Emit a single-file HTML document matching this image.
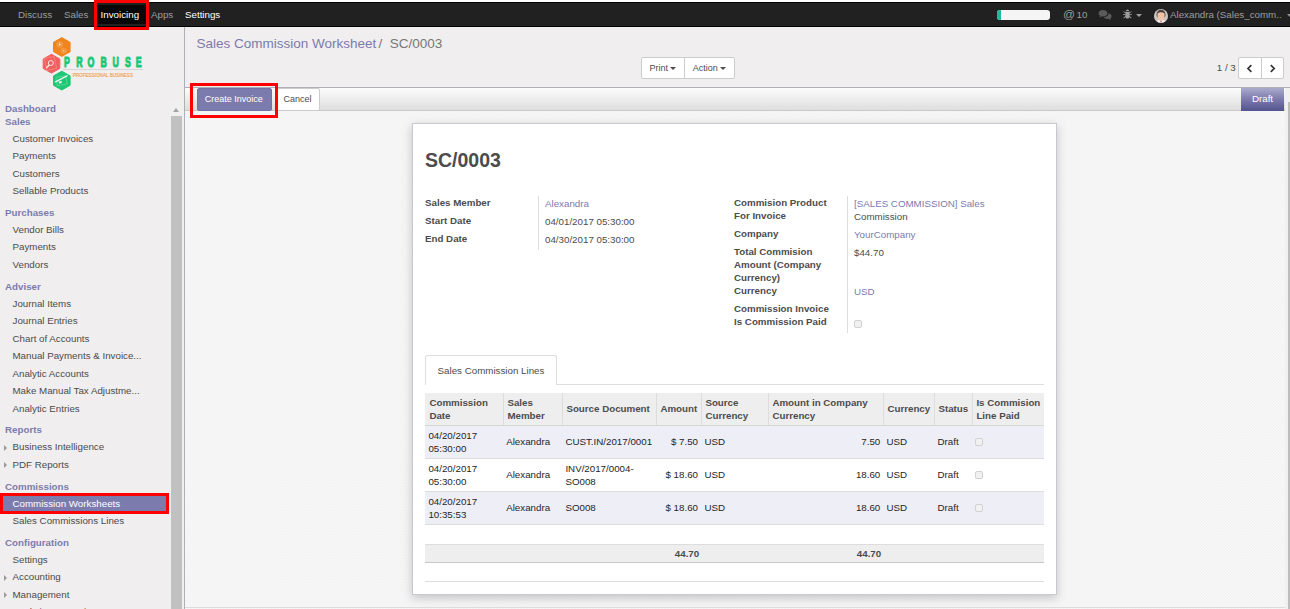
<!DOCTYPE html>
<html>
<head>
<meta charset="utf-8">
<title>SC/0003 - Odoo</title>
<style>
*{box-sizing:border-box;margin:0;padding:0}
html,body{width:1290px;height:609px;overflow:hidden;background:#f0eeee;font-family:"Liberation Sans",sans-serif;font-size:9.75px;color:#4c4c4c}
.abs{position:absolute}
a{text-decoration:none;color:inherit}
/* ---------- top nav ---------- */
#nav{position:absolute;left:0;top:0;width:1290px;height:27px;background:#212121;border-top:2px solid #fff;border-bottom:1px solid #000;box-shadow:inset 0 1px 0 #000}
#nav .mi{position:absolute;top:2px;height:21px;line-height:21px;color:#9d9d9d;font-size:9.75px;white-space:nowrap}
#nav .mi.w{color:#fff}
#nav .act{position:absolute;left:97px;top:3px;width:49px;height:19px;background:#080808}
.redbox{position:absolute;border:3px solid #f00;pointer-events:none;z-index:10}
/* ---------- sidebar ---------- */
#side{position:absolute;left:0;top:27px;width:184px;height:582px;background:#f0eeee}
#sideborder{position:absolute;left:184px;top:27px;width:1px;height:582px;background:#afafb6}
.sec{position:absolute;left:5px;font-weight:bold;color:#7c7bad;font-size:9.75px;line-height:13px;white-space:nowrap}
.it{position:absolute;left:12.5px;color:#4c4c4c;font-size:9.75px;line-height:13px;white-space:nowrap}
.tri{position:absolute;left:4px;width:0;height:0;border-left:3.5px solid #9a9a9a;border-top:3px solid transparent;border-bottom:3px solid transparent}
#sb{position:absolute;left:170px;top:101px;width:14px;height:508px;background:#f0f0f0}
#sb .thumb{position:absolute;left:1px;top:15px;width:11px;height:493px;background:#c1c1c1}
#sb .up{position:absolute;left:3px;top:7px;width:0;height:0;border-left:3.6px solid transparent;border-right:3.6px solid transparent;border-bottom:4px solid #a3a3a3}
/* ---------- control panel ---------- */
#bc{position:absolute;left:196.5px;top:35px;font-size:13.5px;line-height:18px;color:#777;white-space:nowrap}
#bc .l{color:#7c7bad}
.btn{position:absolute;background:#fff;border:1px solid #ccc;color:#4c4c4c;font-size:9px;text-align:center;white-space:nowrap}
.caret{display:inline-block;width:0;height:0;border-left:3px solid transparent;border-right:3px solid transparent;border-top:3.4px solid #4c4c4c;vertical-align:middle;margin-left:2.1px;margin-top:0}
/* ---------- status bar ---------- */
#stat{position:absolute;left:185px;top:87px;width:1105px;height:24px;border-top:1px solid #afafb6;border-bottom:1px solid #c9c9c9;background:linear-gradient(#fcfcfc,#dedede)}
/* ---------- sheet ---------- */
#sheetbg{position:absolute;left:185px;top:111px;width:1100px;height:498px;background:#f0f0f0}
#sheet{position:absolute;left:412px;top:123px;width:645px;height:472px;background:#fff;border:1px solid #c8c8d3;box-shadow:0 3px 9px rgba(100,100,100,.35)}
.lbl{position:absolute;font-weight:bold;color:#4c4c4c;font-size:9.75px;line-height:13px;white-space:nowrap}
.val{position:absolute;color:#4c4c4c;font-size:9.75px;line-height:13px;white-space:nowrap}
.val.l{color:#7c7bad}
.vsep{position:absolute;width:1px;background:#ddd}
.cb{position:absolute;width:8px;height:8px;border:1px solid #d2d2d2;border-radius:2px;background:#f1f1f1}
/* table */
.th{position:absolute;font-weight:bold;color:#4c4c4c;font-size:9.75px;line-height:13px;white-space:nowrap}
.td{position:absolute;color:#262626;font-size:9.75px;line-height:12.5px;white-space:nowrap}
.r{text-align:right}
</style>
</head>
<body>
<!-- NAV -->
<div id="nav">
  <div class="act"></div>
  <span class="mi" style="left:18px">Discuss</span>
  <span class="mi" style="left:64px">Sales</span>
  <span class="mi w" style="left:100.6px">Invoicing</span>
  <span class="mi" style="left:151px">Apps</span>
  <span class="mi w" style="left:185px">Settings</span>
  <div class="abs" style="left:997px;top:8px;width:53px;height:10px;background:#f5f5f5;border-radius:3px;overflow:hidden"><div style="width:4px;height:10px;background:#21b799"></div></div>
  <span class="mi" style="left:1063px;font-size:11.8px">@</span><span class="mi" style="left:1076.6px">10</span>
  <svg class="abs" style="left:1098px;top:6.600px" width="14" height="12" viewBox="0 0 14 12"><path d="M5 1C2.5 1 .5 2.4.5 4.2c0 1 .7 1.900 1.700 2.500-.1.600-.5 1.200-.9 1.600 1-.1 1.900-.5 2.600-1 .4.100.7.100 1.100.100 2.500 0 4.500-1.400 4.500-3.200S7.500 1 5 1z" fill="#5a5a5a"/><path d="M10.600 4.600c0 2.200-2.300 3.800-5 3.900.9.900 2.300 1.400 3.900 1.400.4 0 .8 0 1.100-.1.700.5 1.600.9 2.600 1-.4-.4-.8-1-.9-1.600 1-.6 1.300-1.300 1.300-2.200 0-1.100-1.200-2.100-3-2.400z" fill="#5a5a5a"/></svg>
  <svg class="abs" style="left:1122.5px;top:6.500px" width="9" height="10" viewBox="0 0 10 11"><path d="M3.200 2.200a1.800 1.800 0 0 1 3.600 0zM2.600 3h4.800v5.200c0 1.300-1 2.300-2.400 2.300s-2.400-1-2.400-2.300zM0 5.400h2.400v.9H0zM7.600 5.400H10v.9H7.600zM.8 2.400l1.900 1.400-.5.700L.3 3.100zM9.200 2.400L7.300 3.800l.5.700 1.900-1.400zM.5 9.700l1.900-1.600.5.700L1 10.400zM9.500 9.700L7.600 8.100l-.5.700L9 10.400z" fill="#9d9d9d"/></svg>
  <div class="abs" style="left:1136px;top:11.7px;width:0;height:0;border-left:3px solid transparent;border-right:3px solid transparent;border-top:3.5px solid #9d9d9d"></div>
  <svg class="abs" style="left:1154px;top:6.500px" width="14" height="14" viewBox="0 0 15 15"><defs><clipPath id="av"><circle cx="7.500" cy="7.500" r="7.300"/></clipPath></defs><circle cx="7.500" cy="7.500" r="7.500" fill="#aaa6a3"/><g clip-path="url(#av)"><rect x="0" y="0" width="15" height="15" fill="#cbc6c2"/><path d="M2.800 7.500C2.300 2.600 4.800.8 7.500.8s5.200 1.800 4.700 6.700l-.9 1.500H3.700z" fill="#4a4542"/><path d="M3.700 4.600Q7.500 2.600 11.300 4.600V8.600Q10.900 12.300 7.500 12.300T3.700 8.600z" fill="#efc3a6"/><path d="M0 15.500c.5-2.800 3.500-3.400 7.500-3.400s7 .6 7.500 3.400z" fill="#f4f2f1"/><path d="M6.700 12.500h1.600l-.8 3z" fill="#d0312d"/></g></svg>
  <span class="mi" style="left:1170px">Alexandra (Sales_comm..</span>
  <div class="abs" style="left:1287px;top:11.7px;width:0;height:0;border-left:3px solid transparent;border-right:3px solid transparent;border-top:3.5px solid #9d9d9d"></div>
</div>
<div class="redbox" style="left:94px;top:0;width:55px;height:30px"></div>

<!-- SIDEBAR -->
<div id="side"></div>
<div id="sideborder"></div>
<div id="sidecontent">
<svg class="abs" style="left:35px;top:30px" width="120" height="70" viewBox="35 30 120 70">
<defs><linearGradient id="pg" x1="0" y1="0" x2="0" y2="1"><stop offset="0" stop-color="#1ad07f"/><stop offset=".7" stop-color="#18c877"/><stop offset="1" stop-color="#13a862"/></linearGradient></defs>
<polygon points="61.80,37.60 70.10,42.30 70.10,51.70 61.80,56.40 53.50,51.70 53.50,42.30" fill="#f0851d" stroke="#f0851d" stroke-width="1" stroke-linejoin="round"/>
<polygon points="51.50,54.30 59.80,59.00 59.80,68.40 51.50,73.10 43.20,68.40 43.20,59.00" fill="#f0605f" stroke="#f0605f" stroke-width="1" stroke-linejoin="round"/>
<polygon points="61.80,71.20 70.10,75.90 70.10,85.30 61.80,90.00 53.50,85.30 53.50,75.90" fill="#1ec773" stroke="#1ec773" stroke-width="1" stroke-linejoin="round"/>
<g fill="none" stroke="#f5a04f" stroke-width="1.200" stroke-dasharray="1.100 .7"><circle cx="59.700" cy="44.500" r="2.900"/><circle cx="63.700" cy="50.700" r="2.500"/></g><g fill="none" stroke="#f7b06a" stroke-width=".5"><circle cx="59.700" cy="44.500" r="2.100"/><circle cx="63.700" cy="50.700" r="1.800"/></g>
<circle cx="59.700" cy="44.500" r="1" fill="#fdeedd"/><circle cx="63.700" cy="50.700" r=".8" fill="#fbd9b4"/>
<g fill="none" stroke="#f58f8e" stroke-width=".6"><rect x="45.500" y="57.500" width="10" height="12" transform="rotate(-12 50.500 63.500)"/></g>
<circle cx="50.800" cy="63" r="2.500" fill="#f0605f" stroke="#fde4e3" stroke-width="1"/><path d="M49 65.200L46.800 67.600" stroke="#fde4e3" stroke-width="1.500" stroke-linecap="round"/>
<g fill="none" stroke="#6fdca5" stroke-width=".6"><rect x="56.500" y="76.500" width="10" height="8.500" transform="rotate(-10 61.500 80.500)"/></g>
<path d="M55.500 81.800L67 75.800" stroke="#e9faf1" stroke-width="1.300" stroke-linecap="round"/><rect x="58.700" y="81.300" width="3" height="2" fill="#d6f5e5" transform="rotate(-20 60 82)"/>
<g font-family="Liberation Sans, sans-serif" font-weight="bold" font-size="14.600" fill="url(#pg)" stroke="#18c877" stroke-width="1.100" stroke-linejoin="round"><text transform="translate(66.8,67.300) scale(0.600,1)" text-anchor="middle">P</text><text transform="translate(79.3,67.300) scale(0.600,1)" text-anchor="middle">R</text><text transform="translate(90.9,67.300) scale(0.600,1)" text-anchor="middle">O</text><text transform="translate(103.6,67.300) scale(0.600,1)" text-anchor="middle">B</text><text transform="translate(115.7,67.300) scale(0.600,1)" text-anchor="middle">U</text><text transform="translate(127.9,67.300) scale(0.600,1)" text-anchor="middle">S</text><text transform="translate(138.7,67.300) scale(0.600,1)" text-anchor="middle">E</text></g>
<rect x="63.200" y="69" width="80" height=".8" fill="#cfcfcf"/>
<text x="72.700" y="76.700" font-family="Liberation Sans, sans-serif" font-size="5.300" fill="#f0a04b" stroke="#f0a04b" stroke-width=".15" textLength="60.300" lengthAdjust="spacingAndGlyphs">PROFESSIONAL BUSINESS</text>
</svg>

<div class="sec" style="top:101.5px">Dashboard</div>
<div class="sec" style="top:114.5px">Sales</div>
<div class="sec" style="top:205.5px">Purchases</div>
<div class="sec" style="top:279.5px">Adviser</div>
<div class="sec" style="top:422.5px">Reports</div>
<div class="sec" style="top:479.5px">Commissions</div>
<div class="sec" style="top:535.5px">Configuration</div>
<div class="it" style="top:131.5px">Customer Invoices</div>
<div class="it" style="top:148.5px">Payments</div>
<div class="it" style="top:166.5px">Customers</div>
<div class="it" style="top:183.5px">Sellable Products</div>
<div class="it" style="top:222.5px">Vendor Bills</div>
<div class="it" style="top:239.5px">Payments</div>
<div class="it" style="top:257.5px">Vendors</div>
<div class="it" style="top:296.5px">Journal Items</div>
<div class="it" style="top:313.5px">Journal Entries</div>
<div class="it" style="top:331.5px">Chart of Accounts</div>
<div class="it" style="top:348.5px">Manual Payments &amp; Invoice...</div>
<div class="it" style="top:366.5px">Analytic Accounts</div>
<div class="it" style="top:383.5px">Make Manual Tax Adjustme...</div>
<div class="it" style="top:401.5px">Analytic Entries</div>
<div class="tri" style="top:444.8px"></div>
<div class="it" style="top:439.5px">Business Intelligence</div>
<div class="tri" style="top:462.0px"></div>
<div class="it" style="top:457.5px">PDF Reports</div>
<div class="abs" style="left:0;top:495px;width:168px;height:17px;background:#7c7bad"></div>
<div class="it" style="top:496.5px;color:#fff">Commission Worksheets</div>
<div class="redbox" style="left:0;top:493px;width:169px;height:21px"></div>
<div class="it" style="top:513.5px">Sales Commissions Lines</div>
<div class="it" style="top:552.5px">Settings</div>
<div class="tri" style="top:574.8px"></div>
<div class="it" style="top:569.5px">Accounting</div>
<div class="tri" style="top:592.0px"></div>
<div class="it" style="top:587.5px">Management</div>
<div class="tri" style="top:609px"></div><div class="it" style="top:604.7px">Analytic Accounting</div>
<div id="sb"><div class="up"></div><div class="thumb"></div></div>
</div>

<!-- CONTROL PANEL -->
<div id="bc"><span class="l">Sales Commission Worksheet</span> <span style="margin-left:-1.500px">/</span>&nbsp; SC/0003</div>
<div class="btn" style="left:641px;top:57px;width:44px;height:22px;line-height:20px;border-radius:2px 0 0 2px;text-align:left;padding-left:7.6px">Print<span class="caret"></span></div>
<div class="btn" style="left:684px;top:57px;width:51px;height:22px;line-height:20px;border-radius:0 2px 2px 0;text-align:left;padding-left:7.7px">Action<span class="caret"></span></div>
<div class="abs" style="left:1216.8px;top:62px;font-size:9.75px;line-height:12px;color:#4c4c4c">1 / 3</div>
<div class="btn" style="left:1238px;top:57px;width:24px;height:22px;border-radius:2px 0 0 2px"><svg width="7.200" height="9" viewBox="0 0 8 10" style="margin-top:5.500px"><path d="M6 1.200L2.200 5 6 8.800" fill="none" stroke="#333" stroke-width="1.900"/></svg></div>
<div class="btn" style="left:1261px;top:57px;width:23px;height:22px;border-radius:0 2px 2px 0"><svg width="7.200" height="9" viewBox="0 0 8 10" style="margin-top:5.500px"><path d="M2 1.200L5.800 5 2 8.800" fill="none" stroke="#333" stroke-width="1.900"/></svg></div>

<!-- STATUS BAR -->
<div id="stat"></div>
<div class="abs" style="left:197px;top:88px;width:75px;height:23px;background:#7c7bad;border:1px solid #7473a6;border-radius:2px;color:#fff;font-size:9px;line-height:21px;text-align:center;padding-right:1.4px">Create Invoice</div>
<div class="abs" style="left:275px;top:88px;width:45px;height:23px;background:#fff;border:1px solid #ccc;border-radius:2px;color:#4c4c4c;font-size:9px;line-height:21px;text-align:center">Cancel</div>
<div class="redbox" style="left:190px;top:83px;width:88px;height:35px"></div>
<div class="abs" style="left:1241px;top:88px;width:43px;height:23px;background:linear-gradient(#abaacd,#7f7eae 45%,#545290);color:#fff;font-size:9.75px;line-height:22px;text-align:center">Draft</div>
<div class="abs" style="left:1285px;top:88px;width:5px;height:521px;background:#f0f0f0"><div style="position:absolute;left:3px;top:14px;width:2px;height:507px;background:#bdbdbd"></div></div>

<!-- SHEET -->
<div id="sheetbg"><svg width="1100" height="498" style="display:block"><defs><pattern id="dots" width="2.121" height="2.121" patternUnits="userSpaceOnUse" patternTransform="rotate(45)"><circle cx="1.060" cy="1.060" r=".72" fill="#ffffff"/></pattern></defs><rect width="1100" height="498" fill="url(#dots)"/></svg></div>
<div id="sheet"></div>
<div class="abs" style="left:425px;top:148px;font-size:19.5px;line-height:24px;font-weight:bold;color:#4c4c4c">SC/0003</div>

<div class="lbl" style="left:425px;top:196px">Sales Member</div>
<div class="lbl" style="left:425px;top:214px">Start Date</div>
<div class="lbl" style="left:425px;top:232px">End Date</div>
<div class="vsep" style="left:538px;top:196px;height:54px"></div>
<div class="val l" style="left:545px;top:197px">Alexandra</div>
<div class="val" style="left:545px;top:215px">04/01/2017 05:30:00</div>
<div class="val" style="left:545px;top:233px">04/30/2017 05:30:00</div>

<div class="lbl" style="left:734px;top:196px">Commision Product<br>For Invoice</div>
<div class="lbl" style="left:734px;top:227px">Company</div>
<div class="lbl" style="left:734px;top:245px">Total Commision<br>Amount (Company<br>Currency)</div>
<div class="lbl" style="left:734px;top:284px">Currency</div>
<div class="lbl" style="left:734px;top:302px">Commission Invoice</div>
<div class="lbl" style="left:734px;top:315px">Is Commission Paid</div>
<div class="vsep" style="left:847px;top:196px;height:137px"></div>
<div class="val l" style="left:854px;top:197px">[SALES COMMISSION] Sales</div>
<div class="val" style="left:854px;top:210px">Commission</div>
<div class="val l" style="left:854px;top:228px">YourCompany</div>
<div class="val" style="left:854px;top:246px">$44.70</div>
<div class="val l" style="left:854px;top:285px">USD</div>
<div class="cb" style="left:854px;top:320px"></div>

<!-- notebook -->
<div class="abs" style="left:425px;top:384px;width:619px;height:1px;background:#ddd"></div>
<div class="abs" style="left:425px;top:355px;width:132px;height:30px;background:#fff;border:1px solid #ddd;border-bottom:none;border-radius:3px 3px 0 0;font-size:9.75px;line-height:29px;text-align:center;color:#4c4c4c">Sales Commission Lines</div>

<!-- table -->
<div id="tbl">
<div class="abs" style="left:425px;top:393px;width:619px;height:33px;background:#eee;border-bottom:1px solid #d6d6d6"></div>
<div class="abs" style="left:503px;top:393px;width:1px;height:32px;background:#ddd"></div>
<div class="abs" style="left:562px;top:393px;width:1px;height:32px;background:#ddd"></div>
<div class="abs" style="left:656px;top:393px;width:1px;height:32px;background:#ddd"></div>
<div class="abs" style="left:701px;top:393px;width:1px;height:32px;background:#ddd"></div>
<div class="abs" style="left:768px;top:393px;width:1px;height:32px;background:#ddd"></div>
<div class="abs" style="left:883px;top:393px;width:1px;height:32px;background:#ddd"></div>
<div class="abs" style="left:934px;top:393px;width:1px;height:32px;background:#ddd"></div>
<div class="abs" style="left:972px;top:393px;width:1px;height:32px;background:#ddd"></div>
<div class="th" style="left:429.4px;top:395.7px">Commission<br>Date</div>
<div class="th" style="left:507.4px;top:395.7px">Sales<br>Member</div>
<div class="th" style="left:566.4px;top:402.2px">Source Document</div>
<div class="th" style="left:660.4px;top:402.2px">Amount</div>
<div class="th" style="left:705.4px;top:395.7px">Source<br>Currency</div>
<div class="th" style="left:772.4px;top:395.7px">Amount in Company<br>Currency</div>
<div class="th" style="left:887.4px;top:402.2px">Currency</div>
<div class="th" style="left:938.4px;top:402.2px">Status</div>
<div class="th" style="left:976.4px;top:395.7px">Is Commision<br>Line Paid</div>
<div class="abs" style="left:425px;top:426px;width:619px;height:33px;background:#eeeef6;border-bottom:1px solid #ddd"></div>
<div class="td" style="left:428.4px;top:429.0px;line-height:13px">04/20/2017<br>05:30:00</div>
<div class="td" style="left:506.2px;top:434.5px;line-height:13px">Alexandra</div>
<div class="td" style="left:565.4px;top:434.5px;line-height:13px">CUST.IN/2017/0001</div>
<div class="td r" style="left:656px;width:42px;top:434.5px;line-height:13px">$ 7.50</div>
<div class="td" style="left:704.4px;top:434.5px;line-height:13px">USD</div>
<div class="td r" style="left:768px;width:112.300px;top:434.5px;line-height:13px">7.50</div>
<div class="td" style="left:886.4px;top:434.5px;line-height:13px">USD</div>
<div class="td" style="left:937.5px;top:434.5px;line-height:13px">Draft</div>
<div class="cb" style="left:975px;top:437.5px"></div>
<div class="abs" style="left:425px;top:459px;width:619px;height:33px;background:#fff;border-bottom:1px solid #ddd"></div>
<div class="td" style="left:428.4px;top:462.0px;line-height:13px">04/20/2017<br>05:30:00</div>
<div class="td" style="left:506.2px;top:467.5px;line-height:13px">Alexandra</div>
<div class="td" style="left:565.4px;top:462.0px;line-height:13px">INV/2017/0004-<br>SO008</div>
<div class="td r" style="left:656px;width:42px;top:467.5px;line-height:13px">$ 18.60</div>
<div class="td" style="left:704.4px;top:467.5px;line-height:13px">USD</div>
<div class="td r" style="left:768px;width:112.300px;top:467.5px;line-height:13px">18.60</div>
<div class="td" style="left:886.4px;top:467.5px;line-height:13px">USD</div>
<div class="td" style="left:937.5px;top:467.5px;line-height:13px">Draft</div>
<div class="cb" style="left:975px;top:470.5px"></div>
<div class="abs" style="left:425px;top:492px;width:619px;height:33px;background:#eeeef6;border-bottom:1px solid #ddd"></div>
<div class="td" style="left:428.4px;top:495.0px;line-height:13px">04/20/2017<br>10:35:53</div>
<div class="td" style="left:506.2px;top:500.5px;line-height:13px">Alexandra</div>
<div class="td" style="left:565.4px;top:500.5px;line-height:13px">SO008</div>
<div class="td r" style="left:656px;width:42px;top:500.5px;line-height:13px">$ 18.60</div>
<div class="td" style="left:704.4px;top:500.5px;line-height:13px">USD</div>
<div class="td r" style="left:768px;width:112.300px;top:500.5px;line-height:13px">18.60</div>
<div class="td" style="left:886.4px;top:500.5px;line-height:13px">USD</div>
<div class="td" style="left:937.5px;top:500.5px;line-height:13px">Draft</div>
<div class="cb" style="left:975px;top:503.5px"></div>
<div class="abs" style="left:425px;top:544px;width:619px;height:19px;background:#eee;border-top:1px solid #ddd;border-bottom:1px solid #c8c8c8"></div>
<div class="td r" style="left:656px;width:43.200px;top:546.5px;line-height:13px;font-weight:bold;color:#4c4c4c">44.70</div>
<div class="td r" style="left:768px;width:113.200px;top:546.5px;line-height:13px;font-weight:bold;color:#4c4c4c">44.70</div>
<div class="abs" style="left:425px;top:581px;width:619px;height:1px;background:#ddd"></div>
<div class="abs" style="left:185px;top:607px;width:1100px;height:1px;background:#ddd"></div>
</div>
</body>
</html>
